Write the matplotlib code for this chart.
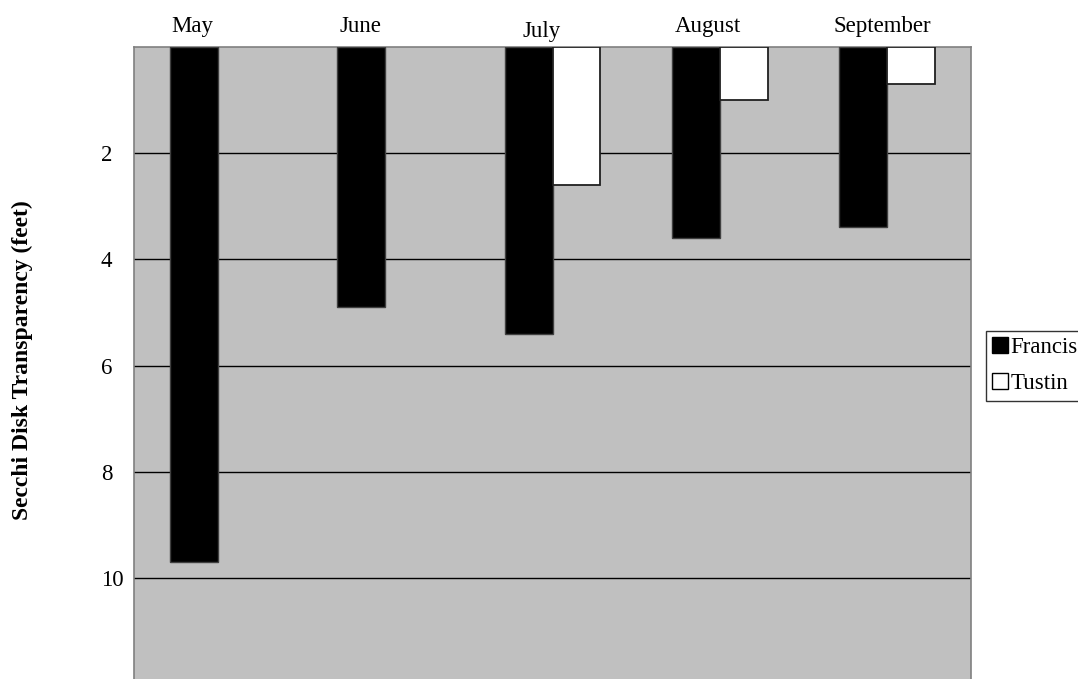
import matplotlib
matplotlib.use("Agg")
import matplotlib.pyplot as plt
import numpy as np
from matplotlib.patches import Patch

months = ["May", "June", "July", "August", "September"]
francis = [9.7, 4.9, 5.4, 3.6, 3.4]
tustin = [0.0, 0.0, 2.6, 1.0, 0.7]
series_names = ["Francis", "Tustin"]
y_ticks = [2, 4, 6, 8, 10]

# horizontal nudges for the month captions (in category units) and baseline height in points
label_dx = [-0.15, -0.145, -0.063, -0.072, -0.03]
label_rise = [10.8, 10.8, 7.2, 10.8, 10.8]

plt.rcParams["font.family"] = ["Liberation Serif", "DejaVu Serif"]

W, H = 1078, 679
fig = plt.figure(figsize=(W / 100, H / 100), dpi=100)
ax = fig.add_axes([134 / W, -5 / H, (971 - 134) / W, (H - 47 + 5) / H])
ax.set_facecolor("#c0c0c0")

x = np.arange(len(months))
w = 1 / 3.5
ax.bar(x - w / 2, francis, width=w, color="black", edgecolor="#404040",
       linewidth=1, zorder=3)
tustin_x = [xi + w / 2 for xi, v in zip(x, tustin) if v > 0]
tustin_v = [v for v in tustin if v > 0]
ax.bar(tustin_x, tustin_v, width=w, color="white", edgecolor="#202020",
       linewidth=1.3, zorder=3)

ax.set_xlim(-0.5, len(months) - 0.5)
ax.set_ylim(12, 0)
ax.set_yticks(y_ticks)
ax.set_yticklabels([str(t) for t in y_ticks], fontsize=16.5, ha="left")
ax.tick_params(axis="y", length=0, pad=23.8)
ax.set_xticks([])
ax.grid(axis="y", color="black", linewidth=1, zorder=1)

for s in ax.spines.values():
    s.set_color("#808080")
    s.set_linewidth(1.2)

for xi, m, dx, rise in zip(x, months, label_dx, label_rise):
    ax.annotate(m, xy=(xi + dx, 1.0), xycoords=("data", "axes fraction"),
                xytext=(0, rise), textcoords="offset points",
                ha="center", va="baseline", fontsize=16.5,
                annotation_clip=False)

fig.text(22 / W, 1 - 360 / H, "Secchi Disk Transparency (feet)", rotation=90,
         ha="center", va="center", fontsize=17, fontweight="bold")

handles = [Patch(facecolor="black", edgecolor="black"),
           Patch(facecolor="white", edgecolor="black")]
leg = fig.legend(handles, series_names, loc="upper left",
                 bbox_to_anchor=(986 / W, 1 - 331 / H), fontsize=16.5,
                 frameon=True, fancybox=False, handlelength=0.7,
                 handleheight=0.7, handletextpad=0.1, borderpad=0.28,
                 labelspacing=0.65, borderaxespad=0, edgecolor="black")
leg.get_frame().set_linewidth(1)

fig.savefig("out.png", dpi=100)
